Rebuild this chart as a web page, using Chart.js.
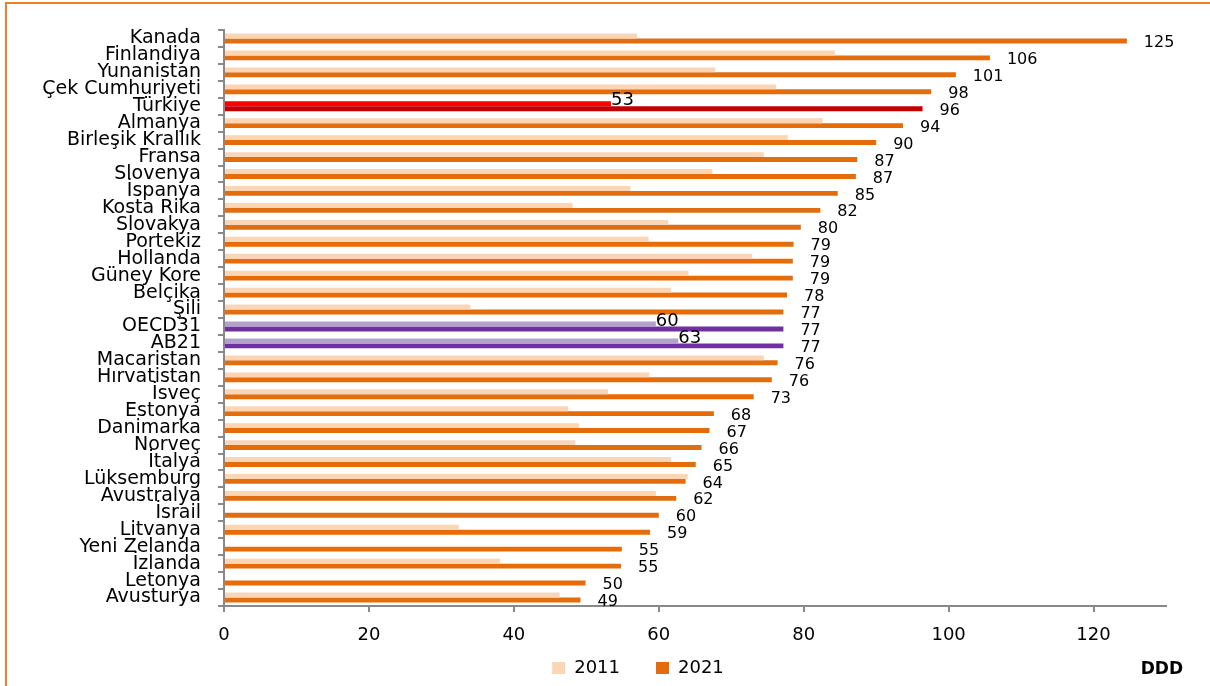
<!DOCTYPE html>
<html>
<head>
<meta charset="utf-8">
<script src="https://cdn.jsdelivr.net/npm/chart.js@4/dist/chart.umd.min.js"></script>
<style>
  html, body { margin: 0; padding: 0; background: #fff; overflow: hidden; width: 1210px; height: 686px; }
  #frame { position: absolute; left: 5px; top: 2px; width: 1300px; height: 800px; border-top: 2px solid #E9822F; border-left: 2px solid #E9822F; }
  #wrap { position: absolute; left: 0; top: 0; width: 1274px; height: 686px; overflow: hidden; }
</style>
</head>
<body>
<div id="frame"></div>
<div id="wrap"><canvas id="ddd" width="1274" height="714"></canvas></div>
<script>
// DDD 2011 vs 2021
const categories = ['Kanada', 'Finlandiya', 'Yunanistan', 'Çek Cumhuriyeti', 'Türkiye', 'Almanya',
  'Birleşik Krallık', 'Fransa', 'Slovenya', 'İspanya', 'Kosta Rika', 'Slovakya', 'Portekiz',
  'Hollanda', 'Güney Kore', 'Belçika', 'Şili', 'OECD31', 'AB21', 'Macaristan', 'Hırvatistan',
  'İsveç', 'Estonya', 'Danimarka', 'Norveç', 'İtalya', 'Lüksemburg', 'Avustralya', 'İsrail',
  'Litvanya', 'Yeni Zelanda', 'İzlanda', 'Letonya', 'Avusturya'];

const values2011 = [57.0, 84.3, 67.8, 76.2, 53.4, 82.6, 77.8, 74.5, 67.4, 56.1, 48.1, 61.3, 58.6,
  72.9, 64.1, 61.7, 34.0, 59.6, 62.7, 74.5, 58.7, 53.0, 47.5, 49.0, 48.5, 61.7, 64.0, 59.6, null,
  32.4, null, 38.1, null, 46.3];

const values2021 = [124.6, 105.7, 101.0, 97.6, 96.4, 93.7, 90.0, 87.4, 87.2, 84.7, 82.3, 79.6, 78.6,
  78.5, 78.5, 77.7, 77.2, 77.2, 77.2, 76.4, 75.6, 73.1, 67.6, 67.0, 65.9, 65.1, 63.7, 62.4, 60.0,
  58.8, 54.9, 54.8, 49.9, 49.2];

const xMax = 130;
const xStep = 20;

const turkey = ['Türkiye'];
const averages = ['OECD31', 'AB21'];

const FONT = '"DejaVu Sans", Verdana, sans-serif';

function colors(base, tr, avg) {
  return categories.map(c => turkey.includes(c) ? tr : (averages.includes(c) ? avg : base));
}

const valueLabels = {
  id: 'valueLabels',
  afterLayout(chart) {
    // legend sits right of centre and a little higher in the original
    const lg = chart.legend;
    lg.left += 55; lg.right += 55;
    lg.top -= 27; lg.bottom -= 27;
  },
  afterDatasetsDraw(chart) {
    const ctx = chart.ctx;
    ctx.save();
    ctx.fillStyle = '#000';
    ctx.textBaseline = 'middle';
    ctx.textAlign = 'left';
    ctx.font = '16px ' + FONT;
    chart.getDatasetMeta(1).data.forEach((bar, i) => {
      ctx.fillText(Math.round(values2021[i]), bar.x + 17, bar.y + 2);
    });
    ctx.font = '18px ' + FONT;
    chart.getDatasetMeta(0).data.forEach((bar, i) => {
      const c = categories[i];
      if (!turkey.includes(c) && !averages.includes(c)) return;
      ctx.fillText(Math.round(values2011[i]), bar.x, bar.y - 3);
    });
    // unit
    ctx.font = 'bold 17px ' + FONT;
    ctx.textAlign = 'right';
    ctx.fillText('DDD', 1183, 670);
    ctx.restore();
  }
};

new Chart(document.getElementById('ddd'), {
  type: 'bar',
  data: {
    labels: categories,
    datasets: [{
      label: '2011',
      data: values2011,
      backgroundColor: colors('#FCD5B5', '#FF0000', '#B3A2C7'),
      categoryPercentage: 0.58,
      barPercentage: 1
    }, {
      label: '2021',
      data: values2021,
      backgroundColor: colors('#E46C0A', '#C00000', '#7030A0'),
      categoryPercentage: 0.58,
      barPercentage: 1
    }]
  },
  options: {
    indexAxis: 'y',
    responsive: false,
    animation: false,
    layout: { padding: { top: 30, right: 108, bottom: 0, left: 0 } },
    scales: {
      x: {
        min: 0,
        max: xMax,
        afterBuildTicks: s => { s.ticks = s.ticks.filter(t => t.value % xStep === 0); },
        afterFit: s => { s.height = 44; },
        ticks: { stepSize: xStep, color: '#000', font: { family: FONT, size: 18 }, padding: 13 },
        grid: { drawOnChartArea: false, drawTicks: true, tickLength: 6, color: '#898989', lineWidth: 2 },
        border: { color: '#898989', width: 2 }
      },
      y: {
        afterFit: s => { s.width = 224; },
        ticks: { color: '#000', font: { family: FONT, size: 19 }, padding: 17, autoSkip: false },
        grid: { drawOnChartArea: false, drawTicks: true, tickLength: 6, color: '#898989', lineWidth: 2 },
        border: { color: '#898989', width: 2 }
      }
    },
    plugins: {
      legend: {
        position: 'bottom',
        labels: { boxWidth: 13, boxHeight: 12, color: '#000', font: { family: FONT, size: 18 }, padding: 36 }
      },
      tooltip: { enabled: false }
    }
  },
  plugins: [valueLabels]
});
</script>
</body>
</html>
